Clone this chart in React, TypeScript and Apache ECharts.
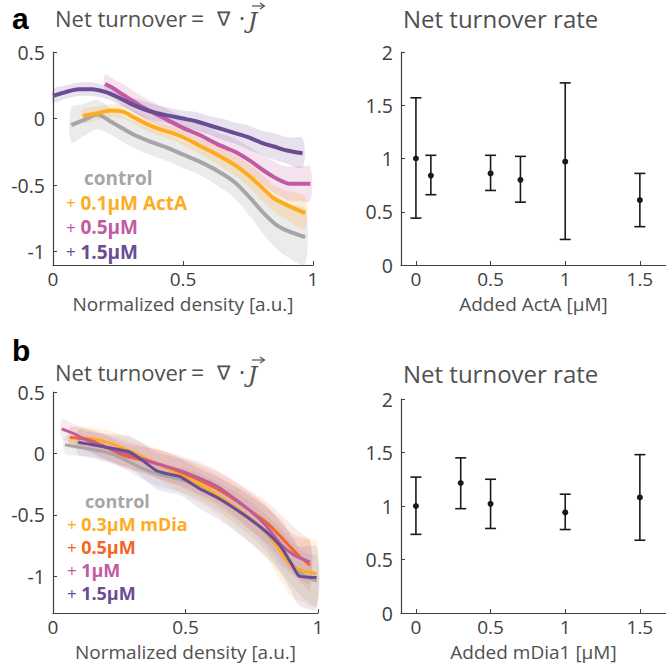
import React, { useEffect, useRef } from "react";
import * as echarts from "echarts";

// ---------- Panel a (left): Net turnover vs normalized density ----------
const aCtrlX = [0.07, 0.12, 0.17, 0.22, 0.3, 0.37, 0.44, 0.5, 0.56, 0.63, 0.7, 0.76, 0.81, 0.86, 0.91, 0.97];
const aCtrlY = [-0.05, -0.01, 0.03, -0.02, -0.11, -0.17, -0.22, -0.27, -0.32, -0.39, -0.48, -0.6, -0.71, -0.8, -0.85, -0.89];
const aCtrlE = [0.13, 0.12, 0.11, 0.1, 0.1, 0.1, 0.1, 0.1, 0.1, 0.11, 0.12, 0.14, 0.16, 0.18, 0.2, 0.21];

const aActX = [0.115, 0.17, 0.22, 0.27, 0.31, 0.36, 0.41, 0.46, 0.5, 0.56, 0.63, 0.7, 0.76, 0.81, 0.85, 0.9, 0.97];
const aActY = [0.02, 0.04, 0.06, 0.05, 0.01, -0.04, -0.08, -0.11, -0.14, -0.2, -0.27, -0.35, -0.44, -0.53, -0.6, -0.65, -0.71];
const aActE = [0.05, 0.05, 0.05, 0.05, 0.05, 0.05, 0.05, 0.05, 0.06, 0.06, 0.07, 0.08, 0.09, 0.1, 0.1, 0.11, 0.12];

const aP5X = [0.2, 0.23, 0.26, 0.3, 0.34, 0.37, 0.42, 0.5, 0.56, 0.63, 0.7, 0.76, 0.81, 0.85, 0.88, 0.91, 0.95, 0.99];
const aP5Y = [0.26, 0.23, 0.19, 0.14, 0.09, 0.06, 0.01, -0.07, -0.12, -0.19, -0.25, -0.32, -0.39, -0.44, -0.47, -0.49, -0.49, -0.49];
const aP5E = [0.07, 0.07, 0.08, 0.08, 0.08, 0.08, 0.08, 0.08, 0.09, 0.09, 0.1, 0.1, 0.11, 0.12, 0.12, 0.13, 0.13, 0.13];

const aP15X = [0, 0.05, 0.1, 0.15, 0.2, 0.25, 0.3, 0.35, 0.4, 0.45, 0.5, 0.55, 0.6, 0.65, 0.7, 0.75, 0.8, 0.85, 0.9, 0.96];
const aP15Y = [0.17, 0.2, 0.22, 0.22, 0.2, 0.16, 0.11, 0.07, 0.04, 0.02, 0.0, -0.02, -0.05, -0.08, -0.11, -0.14, -0.18, -0.21, -0.24, -0.26];
const aP15E = [0.05, 0.05, 0.05, 0.05, 0.05, 0.05, 0.05, 0.06, 0.06, 0.06, 0.06, 0.07, 0.07, 0.08, 0.08, 0.09, 0.09, 0.1, 0.1, 0.11];

// ---------- Panel a (right): Net turnover rate vs ActA ----------
const aRateX = [0, 0.1, 0.5, 0.7, 1, 1.5];
const aRateMean = [1.0, 0.84, 0.86, 0.8, 0.97, 0.61];
const aRateLo = [0.44, 0.66, 0.7, 0.59, 0.24, 0.36];
const aRateHi = [1.57, 1.03, 1.03, 1.02, 1.71, 0.86];

// ---------- Panel b (left): Net turnover vs normalized density ----------
const bCtrlX = [0.045, 0.1, 0.2, 0.27, 0.33, 0.4, 0.49, 0.56, 0.62, 0.68, 0.75, 0.81, 0.86, 0.91, 0.95, 0.995];
const bCtrlY = [0.07, 0.05, 0.01, -0.05, -0.115, -0.17, -0.22, -0.28, -0.35, -0.43, -0.54, -0.66, -0.79, -0.92, -1.0, -1.04];
const bCtrlE = [0.07, 0.07, 0.08, 0.08, 0.09, 0.1, 0.1, 0.11, 0.12, 0.13, 0.14, 0.15, 0.17, 0.18, 0.19, 0.2];

const bM3X = [0.064, 0.15, 0.22, 0.29, 0.37, 0.43, 0.49, 0.56, 0.62, 0.68, 0.75, 0.81, 0.86, 0.9, 0.95, 0.995];
const bM3Y = [0.13, 0.12, 0.08, 0.02, -0.06, -0.12, -0.19, -0.26, -0.34, -0.43, -0.54, -0.65, -0.8, -0.92, -0.96, -0.98];
const bM3E = [0.08, 0.09, 0.1, 0.11, 0.12, 0.13, 0.14, 0.15, 0.16, 0.18, 0.2, 0.22, 0.24, 0.25, 0.26, 0.27];

const bM5X = [0.064, 0.115, 0.15, 0.2, 0.27, 0.37, 0.43, 0.49, 0.555, 0.62, 0.68, 0.74, 0.81, 0.86, 0.89, 0.93, 0.97];
const bM5Y = [0.13, 0.12, 0.1, 0.05, -0.02, -0.07, -0.11, -0.16, -0.22, -0.29, -0.37, -0.46, -0.57, -0.68, -0.75, -0.84, -0.91];
const bM5E = [0.08, 0.08, 0.09, 0.1, 0.1, 0.11, 0.12, 0.12, 0.13, 0.14, 0.15, 0.16, 0.17, 0.18, 0.19, 0.2, 0.2];

const bM10X = [0.033, 0.08, 0.115, 0.2, 0.27, 0.33, 0.4, 0.48, 0.55, 0.62, 0.68, 0.74, 0.8, 0.86, 0.91, 0.97];
const bM10Y = [0.2, 0.16, 0.12, 0.05, 0.0, -0.04, -0.09, -0.14, -0.2, -0.27, -0.36, -0.46, -0.58, -0.74, -0.83, -0.885];
const bM10E = [0.08, 0.08, 0.09, 0.1, 0.11, 0.11, 0.12, 0.12, 0.13, 0.13, 0.14, 0.15, 0.16, 0.17, 0.17, 0.17];

const bM15X = [0.095, 0.15, 0.2, 0.25, 0.29, 0.34, 0.39, 0.44, 0.48, 0.555, 0.62, 0.68, 0.74, 0.8, 0.86, 0.9, 0.93, 0.995];
const bM15Y = [0.09, 0.07, 0.05, 0.03, 0.01, -0.06, -0.14, -0.17, -0.19, -0.29, -0.36, -0.44, -0.53, -0.63, -0.76, -0.9, -1.0, -1.01];
const bM15E = [0.1, 0.1, 0.11, 0.12, 0.13, 0.14, 0.15, 0.15, 0.15, 0.16, 0.17, 0.18, 0.19, 0.2, 0.22, 0.23, 0.24, 0.25];

// ---------- Panel b (right): Net turnover rate vs mDia1 ----------
const bRateX = [0, 0.3, 0.5, 1, 1.5];
const bRateMean = [1.0, 1.215, 1.02, 0.94, 1.08];
const bRateLo = [0.735, 0.975, 0.79, 0.78, 0.68];
const bRateHi = [1.27, 1.45, 1.25, 1.11, 1.48];

// tick values
const leftXTicks = [0, 0.5, 1];
const aLeftYTicks = [-1, -0.5, 0, 0.5];
const bLeftYTicks = [-1, -0.5, 0, 0.5];
const rightXTicks = [0, 0.5, 1, 1.5];
const rightYTicks = [0, 0.5, 1, 1.5, 2];

const C_GREY = "#a6a6a6";
const C_ORANGE = "#fdac22";
const C_PINK = "#c25aa2";
const C_PURPLE = "#6a4c93";
const C_RED = "#f26522";

const FONT = "Open Sans";
const AX = "#404040";
const TXT = "#505050";

function band(xi: number, xs: number[], ys: number[], es: number[], color: string, opacity: number) {
  const data = xs.map((x, i) => [x, ys[i] - es[i], ys[i] + es[i]]);
  return {
    type: "custom",
    xAxisIndex: xi,
    yAxisIndex: xi,
    silent: true,
    z: 1,
    data,
    encode: { x: 0, y: [1, 2] },
    renderItem: (params: any, api: any) => {
      if (params.dataIndex !== 0) return null;
      const up = data.map((d) => api.coord([d[0], d[2]]));
      const lo = data.map((d) => api.coord([d[0], d[1]])).reverse();
      return {
        type: "polygon",
        shape: { points: up.concat(lo), smooth: 0.3 },
        style: { fill: color, opacity },
      };
    },
  };
}

function line(xi: number, xs: number[], ys: number[], color: string, width: number, smooth: number) {
  return {
    type: "line",
    xAxisIndex: xi,
    yAxisIndex: xi,
    z: 3,
    data: xs.map((x, i) => [x, ys[i]]),
    showSymbol: false,
    smooth,
    lineStyle: { color, width, cap: "butt" },
  };
}

function errBars(xi: number, xs: number[], m: number[], lo: number[], hi: number[]) {
  return {
    type: "custom",
    xAxisIndex: xi,
    yAxisIndex: xi,
    z: 3,
    data: xs.map((x, i) => [x, m[i], lo[i], hi[i]]),
    encode: { x: 0, y: [1, 2, 3] },
    renderItem: (_p: any, api: any) => {
      const x = api.value(0);
      const pm = api.coord([x, api.value(1)]);
      const pl = api.coord([x, api.value(2)]);
      const ph = api.coord([x, api.value(3)]);
      const w = 5.5;
      const st = { stroke: "#1a1a1a", lineWidth: 1.6 };
      return {
        type: "group",
        children: [
          { type: "line", shape: { x1: pl[0], y1: pl[1], x2: ph[0], y2: ph[1] }, style: st },
          { type: "line", shape: { x1: pl[0] - w, y1: pl[1], x2: pl[0] + w, y2: pl[1] }, style: st },
          { type: "line", shape: { x1: ph[0] - w, y1: ph[1], x2: ph[0] + w, y2: ph[1] }, style: st },
          { type: "circle", shape: { cx: pm[0], cy: pm[1], r: 3 }, style: { fill: "#1a1a1a" } },
        ],
      };
    },
  };
}

function xAxis(gi: number, min: number, max: number, ticks: number[], name: string) {
  return {
    type: "value",
    gridIndex: gi,
    min,
    max,
    name,
    nameLocation: "middle",
    nameGap: 29,
    nameTextStyle: { color: TXT, fontSize: 19, fontFamily: FONT, lineHeight: 19 },
    axisLine: { show: true, onZero: false, lineStyle: { color: AX, width: 1.2 } },
    axisTick: { show: true, inside: true, length: 4, customValues: ticks, lineStyle: { color: AX } },
    axisLabel: { color: "#404040", fontSize: 19, fontFamily: FONT, margin: 4, lineHeight: 19, customValues: ticks },
    splitLine: { show: false },
  };
}

function yAxis(gi: number, min: number, max: number, ticks: number[]) {
  return {
    type: "value",
    gridIndex: gi,
    min,
    max,
    axisLine: { show: true, onZero: false, lineStyle: { color: AX, width: 1.2 } },
    axisTick: { show: true, inside: true, length: 4, customValues: ticks, lineStyle: { color: AX } },
    axisLabel: { color: "#404040", fontSize: 19.5, fontFamily: FONT, margin: 8, customValues: ticks },
    splitLine: { show: false },
  };
}

function txt(x: number, y: number, text: string, fill: string, size: number, weight: string = "normal", extra: any = {}) {
  return {
    type: "text",
    x,
    y,
    style: {
      text,
      fill,
      fontSize: size,
      fontFamily: FONT,
      fontWeight: weight,
      lineHeight: Math.round(size),
      verticalAlign: "middle",
      align: "left",
      ...extra,
    },
  };
}

function eqTitle(y: number) {
  return [
    txt(55, y, "Net turnover", TXT, 22),
    txt(191, y, "=", TXT, 23),
    txt(217, y + 1, "∇", TXT, 20, "normal", { fontFamily: "DejaVu Sans" }),
    txt(239, y, "·", TXT, 23),
    txt(248, y + 2, "J", TXT, 23, "normal", { fontStyle: "italic", fontFamily: "DejaVu Serif" }),
    { type: "line", shape: { x1: 252, y1: y - 12, x2: 264, y2: y - 12 }, style: { stroke: TXT, lineWidth: 1.2 } },
    {
      type: "polyline",
      shape: { points: [[260, y - 15], [264.5, y - 12], [260, y - 9]] },
      style: { stroke: TXT, lineWidth: 1.2, fill: "none" },
    },
  ];
}

function legend(x: number, y0: number, dy: number, size: number, items: [string, string, boolean][]) {
  return items.map(([t, c, plus], i) => {
    const y = y0 + i * dy;
    if (!plus) return txt(x, y, t, c, size, "bold");
    return {
      type: "text",
      x: x - 18,
      y,
      style: {
        text: "{p|+} {b|" + t + "}",
        fill: c,
        fontFamily: FONT,
        fontSize: size - 1,
        lineHeight: size - 1,
        verticalAlign: "middle",
        align: "left",
        rich: {
          p: { fill: c, fontFamily: FONT, fontSize: 17, lineHeight: size - 1, fontWeight: "normal" },
          b: { fill: c, fontFamily: FONT, fontSize: size, lineHeight: size - 1, fontWeight: "bold" },
        },
      },
    };
  });
}

export default function App() {
  const ref = useRef<HTMLDivElement>(null);
  useEffect(() => {
    if (!ref.current) return;
    const chart = echarts.init(ref.current, undefined, { renderer: "svg" });
    chart.setOption({
      animation: false,
      backgroundColor: "#ffffff",
      grid: [
        { left: 53, top: 52, width: 260, height: 213 },
        { left: 401, top: 52, width: 265, height: 213 },
        { left: 53, top: 392, width: 265, height: 221 },
        { left: 401, top: 399, width: 265, height: 214 },
      ],
      xAxis: [
        xAxis(0, 0, 1, leftXTicks, "Normalized density [a.u.]"),
        xAxis(1, -0.1, 1.675, rightXTicks, "Added ActA [μM]"),
        xAxis(2, 0, 1, leftXTicks, "Normalized density [a.u.]"),
        xAxis(3, -0.1, 1.675, rightXTicks, "Added mDia1 [μM]"),
      ],
      yAxis: [
        yAxis(0, -1.1, 0.5, aLeftYTicks),
        yAxis(1, 0, 2, rightYTicks),
        yAxis(2, -1.3, 0.5, bLeftYTicks),
        yAxis(3, 0, 2, rightYTicks),
      ],
      series: [
        band(0, aCtrlX, aCtrlY, aCtrlE, C_GREY, 0.22),
        band(0, aActX, aActY, aActE, C_ORANGE, 0.2),
        band(0, aP5X, aP5Y, aP5E, C_PINK, 0.16),
        band(0, aP15X, aP15Y, aP15E, C_PURPLE, 0.16),
        line(0, aCtrlX, aCtrlY, C_GREY, 4, 0.3),
        line(0, aActX, aActY, C_ORANGE, 4, 0.3),
        line(0, aP5X, aP5Y, C_PINK, 4, 0.3),
        line(0, aP15X, aP15Y, C_PURPLE, 4, 0.3),
        errBars(1, aRateX, aRateMean, aRateLo, aRateHi),
        band(2, bCtrlX, bCtrlY, bCtrlE, C_GREY, 0.18),
        band(2, bM3X, bM3Y, bM3E, C_ORANGE, 0.13),
        band(2, bM5X, bM5Y, bM5E, C_RED, 0.13),
        band(2, bM10X, bM10Y, bM10E, C_PINK, 0.12),
        band(2, bM15X, bM15Y, bM15E, C_PURPLE, 0.12),
        line(2, bCtrlX, bCtrlY, C_GREY, 3, 0.2),
        line(2, bM3X, bM3Y, C_ORANGE, 3, 0.2),
        line(2, bM5X, bM5Y, C_RED, 3, 0.2),
        line(2, bM10X, bM10Y, C_PINK, 3, 0.2),
        line(2, bM15X, bM15Y, C_PURPLE, 3, 0.2),
        errBars(3, bRateX, bRateMean, bRateLo, bRateHi),
      ],
      graphic: [
        {
          type: "text",
          x: 12,
          y: 18,
          style: { text: "a", fill: "#000", fontSize: 30, lineHeight: 30, fontWeight: "bold", fontFamily: "Liberation Sans", verticalAlign: "middle" },
        },
        {
          type: "text",
          x: 12,
          y: 350,
          style: { text: "b", fill: "#000", fontSize: 30, lineHeight: 30, fontWeight: "bold", fontFamily: "Liberation Sans", verticalAlign: "middle" },
        },
        ...eqTitle(18),
        ...eqTitle(372),
        txt(403, 18, "Net turnover rate", TXT, 24),
        txt(403, 373, "Net turnover rate", TXT, 24),
        ...legend(84, 178, 24.5, 19, [
          ["control", C_GREY, false],
          ["0.1μM ActA", C_ORANGE, true],
          ["0.5μM", C_PINK, true],
          ["1.5μM", C_PURPLE, true],
        ]),
        ...legend(85, 501, 23, 18, [
          ["control", C_GREY, false],
          ["0.3μM mDia", C_ORANGE, true],
          ["0.5μM", C_RED, true],
          ["1μM", C_PINK, true],
          ["1.5μM", C_PURPLE, true],
        ]),
      ],
    });
    return () => chart.dispose();
  }, []);
  return (
    <div
      ref={ref}
      style={{ position: "absolute", left: 0, top: 0, width: 666, height: 665, background: "#fff" }}
    />
  );
}
